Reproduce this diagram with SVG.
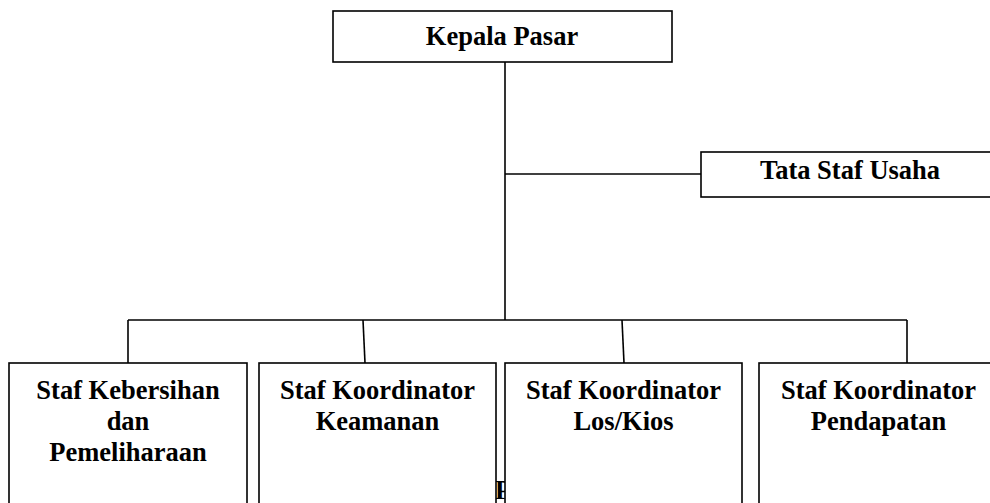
<svg xmlns="http://www.w3.org/2000/svg" width="990" height="503" viewBox="0 0 990 503">
<style>
.box{fill:#fff;stroke:#000;stroke-width:1.6}
.ln{fill:none;stroke:#000;stroke-width:1.6}
text{font-family:"Liberation Serif","Times New Roman",serif;font-weight:bold;font-size:26.5px;fill:#000;text-anchor:middle}
</style>
<rect width="990" height="503" fill="#fff"/>
<text x="495" y="499" style="text-anchor:start">Pa</text>
<g id="connectors">
<path class="ln" d="M505,62 V320"/>
<path class="ln" d="M505,174 H701"/>
<path class="ln" d="M128,320 H907"/>
<path class="ln" d="M128,320 V363"/>
<path class="ln" d="M363,320 L365,363"/>
<path class="ln" d="M622,320 L624,363"/>
<path class="ln" d="M907,320 V363"/>
</g>
<g id="kepala">
<rect class="box" x="333" y="11" width="339" height="51"/>
<text x="502" y="45">Kepala Pasar</text>
</g>
<g id="tata">
<rect class="box" x="701" y="152" width="300" height="45"/>
<text x="850" y="179">Tata Staf Usaha</text>
</g>
<g id="kebersihan">
<rect class="box" x="9" y="363" width="238" height="150"/>
<text x="128" y="399">Staf Kebersihan</text>
<text x="128" y="430">dan</text>
<text x="128" y="461">Pemeliharaan</text>
</g>
<g id="keamanan">
<rect class="box" x="259" y="363" width="237" height="150"/>
<text x="377.5" y="399">Staf Koordinator</text>
<text x="377.5" y="430">Keamanan</text>
</g>
<g id="loskios">
<rect class="box" x="505" y="363" width="237" height="150"/>
<text x="623.5" y="399">Staf Koordinator</text>
<text x="623.5" y="430">Los/Kios</text>
</g>
<g id="pendapatan">
<rect class="box" x="759" y="363" width="250" height="150"/>
<text x="878.5" y="399">Staf Koordinator</text>
<text x="878.5" y="430">Pendapatan</text>
</g>
</svg>
